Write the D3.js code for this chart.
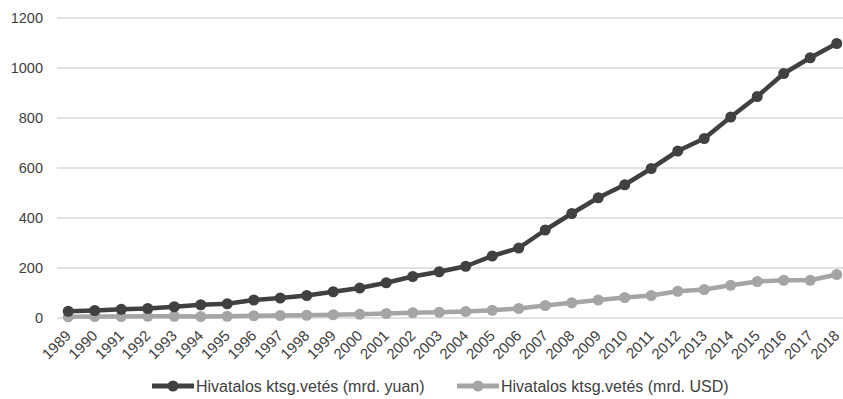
<!DOCTYPE html>
<html>
<head>
<meta charset="utf-8">
<script src="https://cdn.jsdelivr.net/npm/d3@7"></script>
<style>
  html, body { margin: 0; padding: 0; background: #ffffff; }
  svg { display: block; font-family: "Liberation Sans", Arial, sans-serif; }
</style>
</head>
<body>
<svg id="chart" width="843" height="399"></svg>
<script>
// Years on the category axis
const years = ["1989","1990","1991","1992","1993","1994","1995","1996","1997","1998",
  "1999","2000","2001","2002","2003","2004","2005","2006","2007","2008",
  "2009","2010","2011","2012","2013","2014","2015","2016","2017","2018"];

// Official defence budget, billion yuan
const yuanValues = [27, 30, 35, 38, 45, 53, 57, 72, 80, 90,
  105, 120, 141, 166, 185, 207, 248, 280, 352, 418,
  481, 533, 598, 668, 718, 804, 886, 978, 1041, 1098];

// Official defence budget, billion USD
const usdValues = [5, 6, 6, 7, 7, 6, 7, 9, 10, 11,
  13, 15, 18, 21, 23, 26, 31, 38, 50, 61,
  72, 82, 90, 107, 114, 131, 146, 151, 151, 174];

const yTicks = [0, 200, 400, 600, 800, 1000, 1200];

const seriesNames = ["Hivatalos ktsg.vetés (mrd. yuan)", "Hivatalos ktsg.vetés (mrd. USD)"];
const seriesColors = ["#404040", "#a5a5a5"];

const svg = d3.select("#chart");
const plotLeft = 55, plotRight = 850, plotTop = 18, plotBottom = 318;

const x = d3.scaleBand().domain(years).range([plotLeft, plotRight]).padding(0);
const y = d3.scaleLinear().domain([0, 1200]).range([plotBottom, plotTop]);
const cx = yr => x(yr) + x.bandwidth() / 2;

// Horizontal gridlines
svg.append("g").selectAll("line").data(yTicks).join("line")
  .attr("x1", 57).attr("x2", 843)
  .attr("y1", d => y(d)).attr("y2", d => y(d))
  .attr("stroke", "#d9d9d9").attr("stroke-width", 1.3);

// Y-axis labels
const yAxis = d3.axisLeft(y).tickValues(yTicks).tickFormat(d3.format("d"))
  .tickSize(0).tickPadding(0);
const yg = svg.append("g").attr("transform", "translate(43,0)").call(yAxis);
yg.select(".domain").remove();
yg.selectAll("text").attr("font-size", 14.5).attr("fill", "#404040")
  .attr("font-family", "Liberation Sans, Arial, sans-serif");

// X-axis labels, rotated 45 degrees
const xAxis = d3.axisBottom(x).tickSize(0).tickPadding(0);
const xg = svg.append("g").attr("transform", `translate(0,${plotBottom})`).call(xAxis);
xg.select(".domain").remove();
xg.selectAll("text")
  .attr("font-size", 15).attr("fill", "#404040")
  .attr("font-family", "Liberation Sans, Arial, sans-serif")
  .attr("text-anchor", "end")
  .attr("y", 0).attr("dy", "0.35em")
  .attr("transform", "translate(0,15) rotate(-45)");

// Lines with circle markers
const series = [yuanValues, usdValues];
const line = d3.line().x((d, i) => cx(years[i])).y(d => y(d));

[1, 0].forEach(k => {
  const g = svg.append("g");
  g.append("path").datum(series[k])
    .attr("fill", "none").attr("stroke", seriesColors[k])
    .attr("stroke-width", 4.5).attr("stroke-linejoin", "round")
    .attr("d", line);
  g.selectAll("circle").data(series[k]).join("circle")
    .attr("cx", (d, i) => cx(years[i]))
    .attr("cy", d => y(d))
    .attr("r", 5.5)
    .attr("fill", seriesColors[k]);
});

// Legend
const legendItems = [
  { x0: 152, name: seriesNames[0], color: seriesColors[0] },
  { x0: 457, name: seriesNames[1], color: seriesColors[1] }
];
const ly = 386;
const lg = svg.append("g").selectAll("g").data(legendItems).join("g");
lg.append("line")
  .attr("x1", d => d.x0).attr("x2", d => d.x0 + 42)
  .attr("y1", ly).attr("y2", ly)
  .attr("stroke", d => d.color).attr("stroke-width", 5);
lg.append("circle")
  .attr("cx", d => d.x0 + 21).attr("cy", ly).attr("r", 5.5)
  .attr("fill", d => d.color);
lg.append("text")
  .attr("x", d => d.x0 + 44).attr("y", ly + 5.5)
  .attr("font-size", 16).attr("fill", "#404040")
  .text(d => d.name);
</script>
</body>
</html>
